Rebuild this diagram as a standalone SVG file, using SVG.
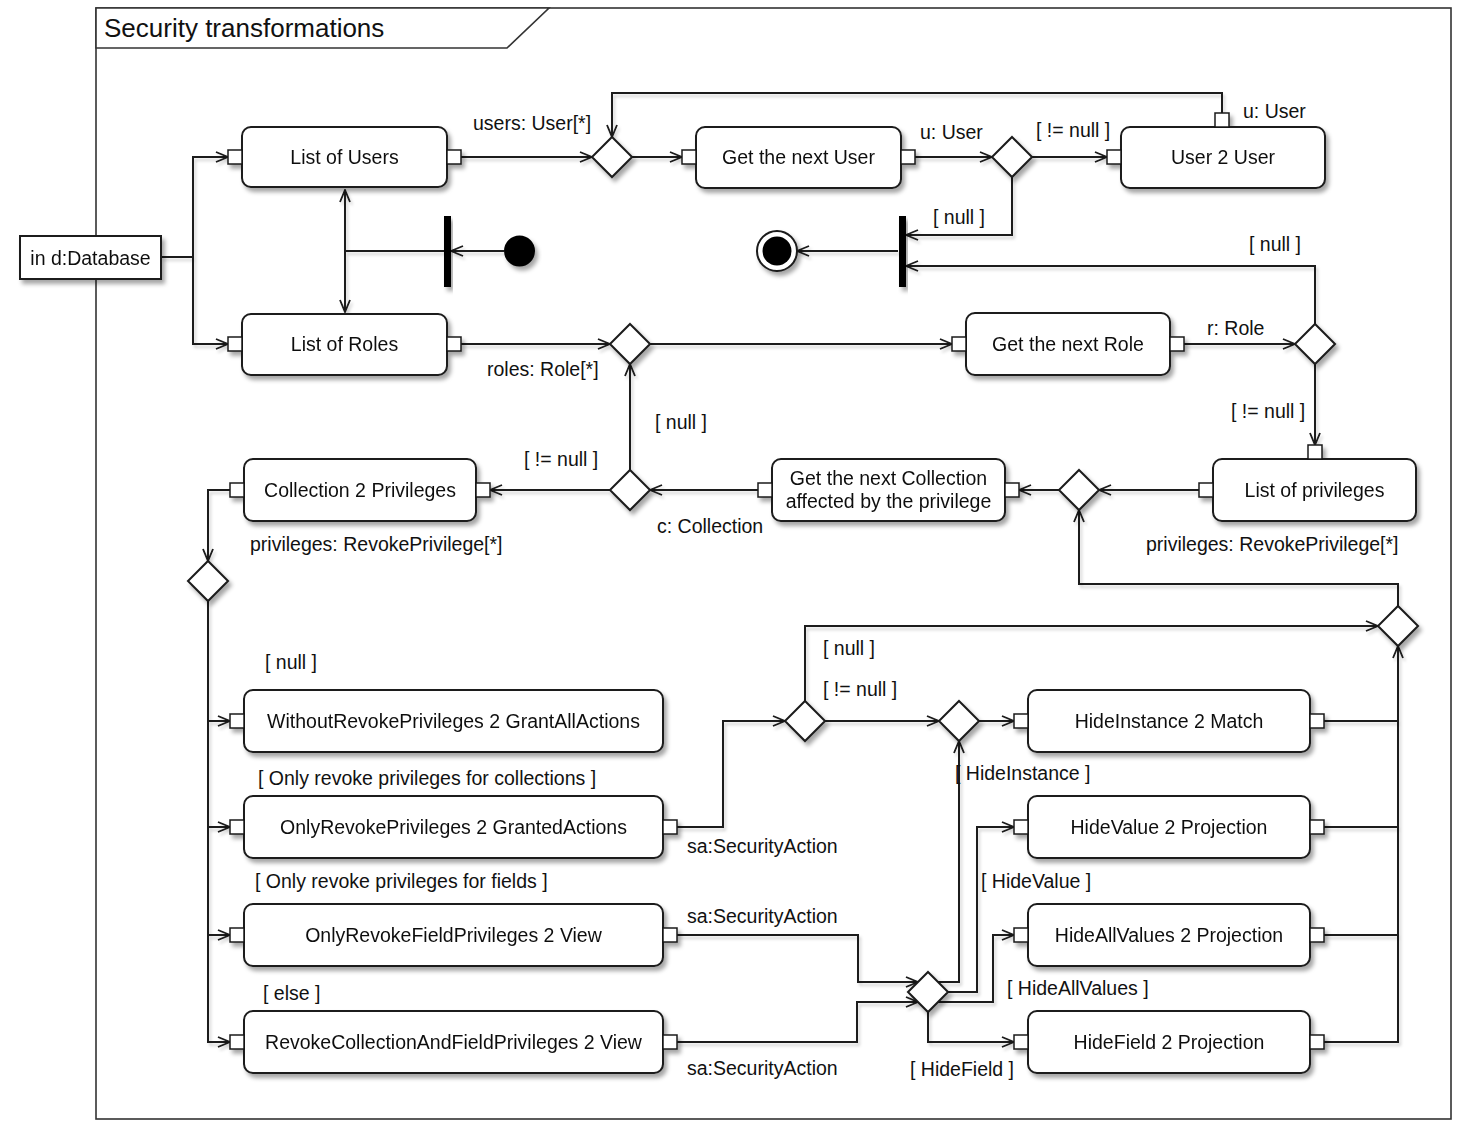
<svg xmlns="http://www.w3.org/2000/svg" width="1462" height="1132" viewBox="0 0 1462 1132">
<defs>
<filter id="sh" x="-10%" y="-10%" width="130%" height="140%">
<feDropShadow dx="3" dy="4" stdDeviation="2" flood-color="#000" flood-opacity="0.35"/>
</filter>
<filter id="lsh" x="-5%" y="-5%" width="110%" height="110%">
<feDropShadow dx="2" dy="3" stdDeviation="1.5" flood-color="#000" flood-opacity="0.18"/>
</filter>
<marker id="ar" viewBox="0 0 14 12" refX="13" refY="6" markerWidth="14" markerHeight="12" markerUnits="userSpaceOnUse" orient="auto-start-reverse">
<path d="M1,1 L13,6 L1,11" fill="none" stroke="#1a1a1a" stroke-width="1.8"/>
</marker>
</defs>
<style>
.frame{fill:#fff;stroke:#333;stroke-width:1.6}
.node rect.b{fill:#fff;stroke:#1a1a1a;stroke-width:2}
.port{fill:#fff;stroke:#1a1a1a;stroke-width:1.5}
.dia{fill:#fff;stroke:#1a1a1a;stroke-width:2}
.c path{fill:none;stroke:#1a1a1a;stroke-width:2}
.c path.a{marker-end:url(#ar)}
text{font-family:"Liberation Sans",Arial,Helvetica,sans-serif;font-size:19.5px;fill:#111}
.t{text-anchor:middle}
.title{font-size:26px}
</style>
<rect width="1462" height="1132" fill="#fff"/>
<g id="frame">
<rect class="frame" x="96" y="8" width="1355" height="1111"/>
<path d="M96,8 H549 L507,48 H96 Z" fill="#fff" stroke="#333" stroke-width="1.6"/>
<text class="title" x="104" y="37">Security transformations</text>
</g>

<g class="c" id="connectors" filter="url(#lsh)">
<path d="M161,257 H193"/>
<path class="a" d="M193,257 V157 H228"/>
<path class="a" d="M193,257 V344 H228"/>
<path class="a" d="M461,157 H592"/>
<path class="a" d="M632,157 H682"/>
<path class="a" d="M915,157 H992"/>
<path class="a" d="M1032,157 H1107"/>
<path class="a" d="M1222,113 V93 H612 V137"/>
<path class="a" d="M1012,177 V235 H906"/>
<path class="a" d="M898,251 H797"/>
<path class="a" d="M504,251 H451"/>
<path d="M444,251 H345"/>
<path d="M345,190 V312" style="marker-start:url(#ar);marker-end:url(#ar)"/>
<path class="a" d="M461,344 H610"/>
<path class="a" d="M650,344 H952"/>
<path class="a" d="M1184,344 H1295"/>
<path class="a" d="M1315,324 V266 H906"/>
<path class="a" d="M1315,364 V445"/>
<path class="a" d="M1199,490 H1099"/>
<path class="a" d="M1059,490 H1019"/>
<path class="a" d="M758,490 H650"/>
<path class="a" d="M630,470 V364"/>
<path class="a" d="M610,490 H490"/>
<path class="a" d="M230,490 H208 V561"/>
<path class="a" d="M208,601 V1042 H230"/>
<path class="a" d="M208,721 H230"/>
<path class="a" d="M208,827 H230"/>
<path class="a" d="M208,935 H230"/>
<path class="a" d="M677,827 H723 V721 H785"/>
<path class="a" d="M805,701 V626 H1378"/>
<path class="a" d="M825,721 H939"/>
<path class="a" d="M979,721 H1014"/>
<path d="M1324,721 H1398"/>
<path d="M1324,827 H1398"/>
<path d="M1324,935 H1398"/>
<path class="a" d="M1324,1042 H1398 V646"/>
<path class="a" d="M1398,606 V584 H1079 V510"/>
<path class="a" d="M677,935 H858 V982 H918"/>
<path class="a" d="M677,1042 H857 V1002 H918"/>
<path class="a" d="M938,982 H959 V741"/>
<path class="a" d="M948,992 H977 V827 H1014"/>
<path class="a" d="M938,1002 H993 V935 H1014"/>
<path class="a" d="M928,1012 V1042 H1014"/>
</g>

<g id="labels">
<text x="473" y="130">users: User[*]</text>
<text x="920" y="139">u: User</text>
<text x="1036" y="137">[ != null ]</text>
<text x="1243" y="118">u: User</text>
<text x="933" y="224">[ null ]</text>
<text x="1249" y="251">[ null ]</text>
<text x="1207" y="335">r: Role</text>
<text x="487" y="376">roles: Role[*]</text>
<text x="1231" y="418">[ != null ]</text>
<text x="655" y="429">[ null ]</text>
<text x="524" y="466">[ != null ]</text>
<text x="657" y="533">c: Collection</text>
<text x="250" y="551">privileges: RevokePrivilege[*]</text>
<text x="1146" y="551">privileges: RevokePrivilege[*]</text>
<text x="265" y="669">[ null ]</text>
<text x="823" y="655">[ null ]</text>
<text x="823" y="696">[ != null ]</text>
<text x="258" y="785">[ Only revoke privileges for collections ]</text>
<text x="955" y="780">[ HideInstance ]</text>
<text x="687" y="853">sa:SecurityAction</text>
<text x="255" y="888">[ Only revoke privileges for fields ]</text>
<text x="981" y="888">[ HideValue ]</text>
<text x="687" y="923">sa:SecurityAction</text>
<text x="263" y="1000">[ else ]</text>
<text x="1007" y="995">[ HideAllValues ]</text>
<text x="687" y="1075">sa:SecurityAction</text>
<text x="910" y="1076">[ HideField ]</text>
</g>

<g id="database" class="node" filter="url(#sh)">
<rect x="20" y="236" width="141" height="43" fill="#fff" stroke="#1a1a1a" stroke-width="2"/>
<text class="t" x="90.5" y="265">in d:Database</text>
</g>

<g id="initial" filter="url(#sh)"><circle cx="519.5" cy="251" r="15.5" fill="#000"/></g>
<g id="fork1" filter="url(#sh)"><rect x="444" y="216" width="7" height="71" fill="#000"/></g>
<g id="join1" filter="url(#sh)"><rect x="899" y="216" width="7" height="71" fill="#000"/></g>
<g id="final" filter="url(#sh)"><circle cx="777" cy="251" r="20" fill="#fff" stroke="#1a1a1a" stroke-width="2"/><circle cx="777" cy="251" r="14.5" fill="#000"/></g>

<g id="listUsers" class="node" filter="url(#sh)">
<rect class="b" x="242" y="127" width="205" height="60" rx="9"/>
<rect class="port" x="228" y="150" width="14" height="14"/><rect class="port" x="447" y="150" width="14" height="14"/>
<text class="t" x="344.5" y="164">List of Users</text>
</g>
<g id="listRoles" class="node" filter="url(#sh)">
<rect class="b" x="242" y="314" width="205" height="61" rx="9"/>
<rect class="port" x="228" y="337" width="14" height="14"/><rect class="port" x="447" y="337" width="14" height="14"/>
<text class="t" x="344.5" y="351">List of Roles</text>
</g>
<g id="nextUser" class="node" filter="url(#sh)">
<rect class="b" x="696" y="127" width="205" height="61" rx="9"/>
<rect class="port" x="682" y="150" width="14" height="14"/><rect class="port" x="901" y="150" width="14" height="14"/>
<text class="t" x="798.5" y="164">Get the next User</text>
</g>
<g id="user2user" class="node" filter="url(#sh)">
<rect class="b" x="1121" y="127" width="204" height="61" rx="9"/>
<rect class="port" x="1107" y="150" width="14" height="14"/><rect class="port" x="1215" y="113" width="14" height="14"/>
<text class="t" x="1223" y="164">User 2 User</text>
</g>
<g id="nextRole" class="node" filter="url(#sh)">
<rect class="b" x="966" y="313" width="204" height="62" rx="9"/>
<rect class="port" x="952" y="337" width="14" height="14"/><rect class="port" x="1170" y="337" width="14" height="14"/>
<text class="t" x="1068" y="351">Get the next Role</text>
</g>
<g id="listPriv" class="node" filter="url(#sh)">
<rect class="b" x="1213" y="459" width="203" height="62" rx="9"/>
<rect class="port" x="1308" y="445" width="14" height="14"/><rect class="port" x="1199" y="483" width="14" height="14"/>
<text class="t" x="1314.5" y="497">List of privileges</text>
</g>
<g id="nextColl" class="node" filter="url(#sh)">
<rect class="b" x="772" y="459" width="233" height="62" rx="9"/>
<rect class="port" x="758" y="483" width="14" height="14"/><rect class="port" x="1005" y="483" width="14" height="14"/>
<text class="t" x="888.5" y="485">Get the next Collection</text>
<text class="t" x="888.5" y="508">affected by the privilege</text>
</g>
<g id="coll2priv" class="node" filter="url(#sh)">
<rect class="b" x="244" y="459" width="232" height="62" rx="9"/>
<rect class="port" x="230" y="483" width="14" height="14"/><rect class="port" x="476" y="483" width="14" height="14"/>
<text class="t" x="360" y="497">Collection 2 Privileges</text>
</g>

<g id="withoutRevoke" class="node" filter="url(#sh)">
<rect class="b" x="244" y="690" width="419" height="62" rx="9"/>
<rect class="port" x="230" y="714" width="14" height="14"/>
<text class="t" x="453.5" y="728">WithoutRevokePrivileges 2 GrantAllActions</text>
</g>
<g id="onlyRevoke" class="node" filter="url(#sh)">
<rect class="b" x="244" y="796" width="419" height="62" rx="9"/>
<rect class="port" x="230" y="820" width="14" height="14"/><rect class="port" x="663" y="820" width="14" height="14"/>
<text class="t" x="453.5" y="834">OnlyRevokePrivileges 2 GrantedActions</text>
</g>
<g id="onlyRevokeField" class="node" filter="url(#sh)">
<rect class="b" x="244" y="904" width="419" height="62" rx="9"/>
<rect class="port" x="230" y="928" width="14" height="14"/><rect class="port" x="663" y="928" width="14" height="14"/>
<text class="t" x="453.5" y="942">OnlyRevokeFieldPrivileges 2 View</text>
</g>
<g id="revokeCollField" class="node" filter="url(#sh)">
<rect class="b" x="244" y="1011" width="419" height="62" rx="9"/>
<rect class="port" x="230" y="1035" width="14" height="14"/><rect class="port" x="663" y="1035" width="14" height="14"/>
<text class="t" x="453.5" y="1049">RevokeCollectionAndFieldPrivileges 2 View</text>
</g>

<g id="hideInstance" class="node" filter="url(#sh)">
<rect class="b" x="1028" y="690" width="282" height="62" rx="9"/>
<rect class="port" x="1014" y="714" width="14" height="14"/><rect class="port" x="1310" y="714" width="14" height="14"/>
<text class="t" x="1169" y="728">HideInstance 2 Match</text>
</g>
<g id="hideValue" class="node" filter="url(#sh)">
<rect class="b" x="1028" y="796" width="282" height="62" rx="9"/>
<rect class="port" x="1014" y="820" width="14" height="14"/><rect class="port" x="1310" y="820" width="14" height="14"/>
<text class="t" x="1169" y="834">HideValue 2 Projection</text>
</g>
<g id="hideAllValues" class="node" filter="url(#sh)">
<rect class="b" x="1028" y="904" width="282" height="62" rx="9"/>
<rect class="port" x="1014" y="928" width="14" height="14"/><rect class="port" x="1310" y="928" width="14" height="14"/>
<text class="t" x="1169" y="942">HideAllValues 2 Projection</text>
</g>
<g id="hideField" class="node" filter="url(#sh)">
<rect class="b" x="1028" y="1011" width="282" height="62" rx="9"/>
<rect class="port" x="1014" y="1035" width="14" height="14"/><rect class="port" x="1310" y="1035" width="14" height="14"/>
<text class="t" x="1169" y="1049">HideField 2 Projection</text>
</g>

<g id="decisions" filter="url(#sh)">
<path id="d_users" class="dia" d="M612,137 L632,157 L612,177 L592,157 Z"/>
<path id="d_user" class="dia" d="M1012,137 L1032,157 L1012,177 L992,157 Z"/>
<path id="d_roles" class="dia" d="M630,324 L650,344 L630,364 L610,344 Z"/>
<path id="d_role" class="dia" d="M1315,324 L1335,344 L1315,364 L1295,344 Z"/>
<path id="d_priv" class="dia" d="M1079,470 L1099,490 L1079,510 L1059,490 Z"/>
<path id="d_coll" class="dia" d="M630,470 L650,490 L630,510 L610,490 Z"/>
<path id="d_kind" class="dia" d="M208,561 L228,581 L208,601 L188,581 Z"/>
<path id="d_sa" class="dia" d="M805,701 L825,721 L805,741 L785,721 Z"/>
<path id="d_hi" class="dia" d="M959,701 L979,721 L959,741 L939,721 Z"/>
<path id="d_merge" class="dia" d="M1398,606 L1418,626 L1398,646 L1378,626 Z"/>
<path id="d_action" class="dia" d="M928,972 L948,992 L928,1012 L908,992 Z"/>
</g>
</svg>
